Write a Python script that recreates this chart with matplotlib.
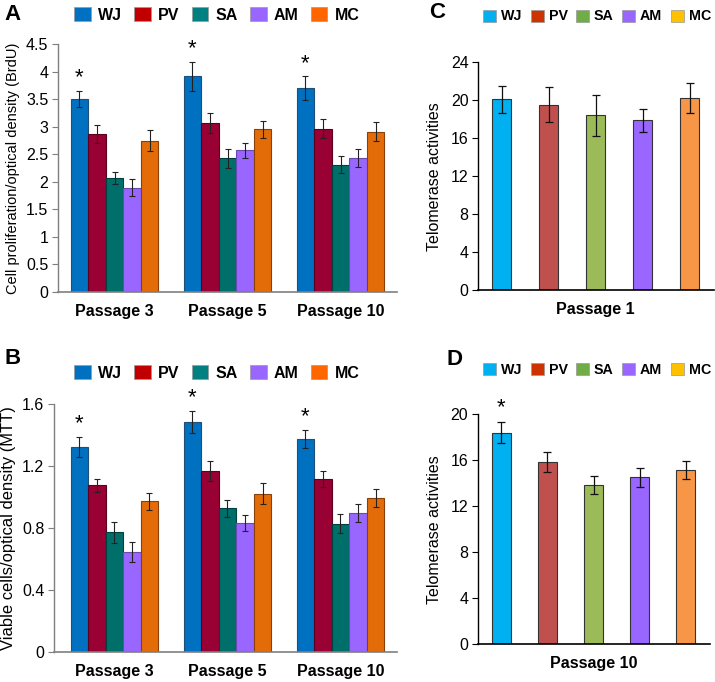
import numpy as np
import matplotlib
matplotlib.use("Agg")
import matplotlib.pyplot as plt
from matplotlib.patches import Patch

# data
groups = ["WJ", "PV", "SA", "AM", "MC"]
passages_ab = ["Passage 3", "Passage 5", "Passage 10"]

# A: BrdU proliferation, rows = passages, columns = groups
brdu_mean = [[3.50, 2.87, 2.07, 1.89, 2.74],
             [3.91, 3.06, 2.42, 2.57, 2.95],
             [3.70, 2.96, 2.31, 2.43, 2.91]]
brdu_err = [[0.15, 0.16, 0.11, 0.15, 0.19],
            [0.26, 0.18, 0.17, 0.14, 0.16],
            [0.21, 0.17, 0.15, 0.17, 0.17]]
brdu_star = [True, True, True]

# B: MTT viability
mtt_mean = [[1.32, 1.075, 0.771, 0.644, 0.973],
            [1.484, 1.167, 0.926, 0.829, 1.021],
            [1.372, 1.116, 0.827, 0.898, 0.991]]
mtt_err = [[0.065, 0.042, 0.07, 0.066, 0.055],
           [0.07, 0.063, 0.054, 0.052, 0.069],
           [0.058, 0.054, 0.06, 0.058, 0.058]]
mtt_star = [True, True, True]

# C: telomerase, passage 1
telo_p1 = [20.1, 19.55, 18.4, 17.9, 20.25]
telo_p1_err = [1.4, 1.8, 2.2, 1.2, 1.57]

# D: telomerase, passage 10
telo_p10 = [18.38, 15.8, 13.8, 14.5, 15.14]
telo_p10_err = [0.92, 0.87, 0.78, 0.84, 0.81]
telo_p10_star = [True, False, False, False, False]

col_ab = ["#0070C0", "#990033", "#006F6A", "#9966FF", "#E36C09"]
edge_ab = ["#1F4E79", "#5C0020", "#004040", "#6A4AB0", "#8A4006"]
leg_ab = ["#0070C0", "#C00000", "#008080", "#9966FF", "#FF6600"]
col_cd = ["#00B0F0", "#C0504D", "#9BBB59", "#9966FF", "#F79646"]
leg_cd = ["#00B0F0", "#CC3300", "#70AD47", "#9966FF", "#FFC000"]

narrow = ["Liberation Sans Narrow", "Liberation Sans", "DejaVu Sans"]
sans = ["Liberation Sans", "DejaVu Sans"]

fig = plt.figure(figsize=(7.15, 6.82), dpi=100)


def px_axes(l, r, t, b):
    W, H = 715.0, 682.0
    return fig.add_axes([l / W, 1 - b / H, (r - l) / W, (b - t) / H])


def style_axes(ax, spine_col):
    for s in ["top", "right"]:
        ax.spines[s].set_visible(False)
    ax.spines["left"].set_color(spine_col)
    ax.spines["bottom"].set_color(spine_col)
    ax.spines["left"].set_linewidth(1.0)
    ax.spines["bottom"].set_linewidth(1.2)
    ax.tick_params(axis="y", direction="out", length=4, width=0.8,
                   color=spine_col, pad=3)
    ax.tick_params(axis="x", length=0, pad=8.5)
    for lab in ax.get_yticklabels():
        lab.set_family(narrow)
        lab.set_fontsize(11.5)
    for lab in ax.get_xticklabels():
        lab.set_family(sans)
        lab.set_fontweight("bold")
        lab.set_fontsize(11.5)


def grouped(ax, means, errs, stars, yticks, ylabel, ylab_size, xlim_left, starpad):
    x = np.arange(len(passages_ab))
    w = 0.155
    means = np.array(means)
    errs = np.array(errs)
    for j in range(len(groups)):
        pos = x + (j - 2) * w
        ax.bar(pos, means[:, j], w, color=col_ab[j], edgecolor=edge_ab[j],
               linewidth=0.8, zorder=2)
        ax.errorbar(pos, means[:, j], yerr=errs[:, j], fmt="none",
                    ecolor="#222222", elinewidth=0.8, capsize=2, capthick=0.8,
                    zorder=3)
    for i in range(len(passages_ab)):
        if stars[i]:
            top = means[i, 0] + errs[i, 0]
            ax.text(x[i] - 2 * w, top + starpad, "*", ha="center", va="bottom",
                    fontsize=16, family=sans)
    ax.set_xlim(xlim_left, 2.5)
    ax.set_ylim(0, yticks[-1])
    ax.set_yticks(yticks)
    ax.set_yticklabels(["%g" % t for t in yticks])
    ax.set_xticks(x)
    ax.set_xticklabels(passages_ab)
    ax.set_ylabel(ylabel, family=narrow, fontsize=ylab_size, labelpad=4)
    style_axes(ax, "#7f7f7f")


def single(ax, vals, errs, stars, yticks, xlabel):
    x = np.arange(len(groups))
    ax.bar(x, vals, 0.41, color=col_cd, edgecolor="#333333", linewidth=0.8,
           zorder=2)
    ax.errorbar(x, vals, yerr=errs, fmt="none", ecolor="#111111",
                elinewidth=0.9, capsize=3, capthick=0.9, zorder=3)
    for i in range(len(groups)):
        if stars[i]:
            ax.text(x[i], vals[i] + errs[i] + 0.3, "*", ha="center",
                    va="bottom", fontsize=16, family=sans)
    ax.set_xlim(-0.5, 4.52)
    ax.set_ylim(0, yticks[-1])
    ax.set_yticks(yticks)
    ax.set_yticklabels(["%g" % t for t in yticks])
    ax.set_xticks([2])
    ax.set_xticklabels([xlabel])
    ax.set_ylabel("Telomerase activities", family=narrow, fontsize=11.5,
                  labelpad=6)
    style_axes(ax, "#000000")


axA = px_axes(58, 397, 44, 291.7)
grouped(axA, brdu_mean, brdu_err, brdu_star, np.arange(0, 4.51, 0.5),
        "Cell proliferation/optical density (BrdU)", 10.5, -0.5, 0.05)

axB = px_axes(54, 397, 404, 651.7)
grouped(axB, mtt_mean, mtt_err, mtt_star, [0, 0.4, 0.8, 1.2, 1.6],
        "Viable cells/optical density (MTT)", 11.9, -0.535, 0.02)

axC = px_axes(478.3, 714, 62.3, 290)
single(axC, telo_p1, telo_p1_err, [False] * 5, [0, 4, 8, 12, 16, 20, 24],
       "Passage 1")

axD = px_axes(478, 710, 414, 644.3)
single(axD, telo_p10, telo_p10_err, telo_p10_star, [0, 4, 8, 12, 16, 20],
       "Passage 10")

# legends
big_handles = [Patch(facecolor=c, edgecolor="#999999", linewidth=0.5) for c in leg_ab]
small_handles = [Patch(facecolor=c, edgecolor="#999999", linewidth=0.5) for c in leg_cd]

for yy in [15, 373]:
    fig.legend(big_handles, groups, ncol=5, loc="center",
               bbox_to_anchor=(217 / 715, 1 - yy / 682), frameon=False,
               prop={"family": sans, "weight": "bold", "size": 11.5},
               handlelength=1.05, handleheight=0.95, handletextpad=0.45,
               columnspacing=0.75, borderpad=0)
for yy in [16.5, 370]:
    fig.legend(small_handles, groups, ncol=5, loc="center",
               bbox_to_anchor=(597 / 715, 1 - yy / 682), frameon=False,
               prop={"family": sans, "weight": "bold", "size": 10.3},
               handlelength=0.9, handleheight=0.9, handletextpad=0.34,
               columnspacing=0.6, borderpad=0)

# panel letters
for lab, xx, yy in [("A", 12.5, 15), ("B", 13, 358), ("C", 437, 13), ("D", 455, 359.5)]:
    fig.text(xx / 715, 1 - yy / 682, lab, ha="center", va="center",
             fontsize=16, fontweight="bold", family=sans)

fig.savefig("out.png", dpi=100)
